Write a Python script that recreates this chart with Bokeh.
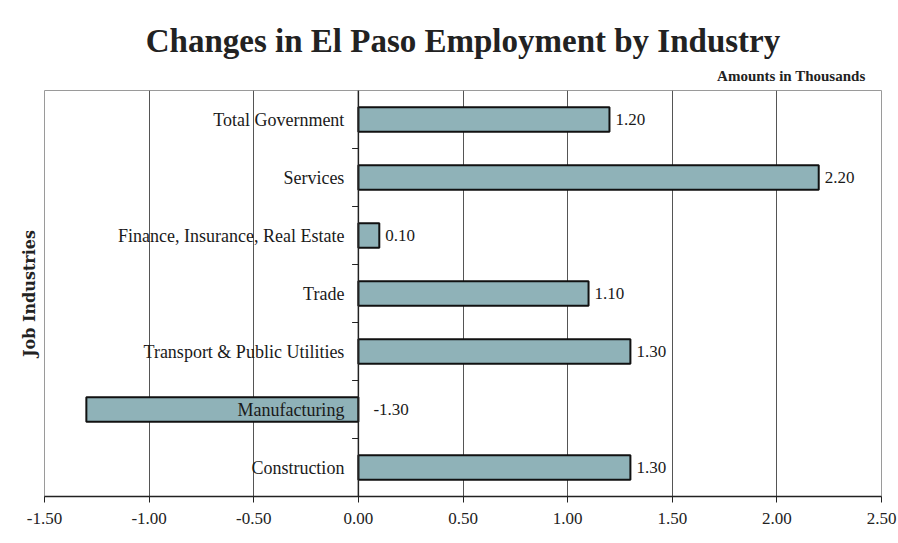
from bokeh.plotting import figure
from bokeh.models import Range1d, Span, Title, ColumnDataSource, FixedTicker, NumeralTickFormatter
from bokeh.core.properties import value
from bokeh.embed import file_html
from bokeh.resources import INLINE

industries = ["Construction", "Manufacturing", "Transport & Public Utilities", "Trade",
              "Finance, Insurance, Real Estate", "Services", "Total Government"]
changes = [1.30, -1.30, 1.30, 1.10, 0.10, 2.20, 1.20]
x_ticks = [-1.5, -1.0, -0.5, 0.0, 0.5, 1.0, 1.5, 2.0, 2.5]

FONT = "Liberation Serif"
BAR = "#8fb2b8"

idx = list(range(len(industries)))
src = ColumnDataSource(dict(
    y=idx, v=changes, name=industries,
    lx=[max(v, 0) for v in changes],
    lab=["%.2f" % v for v in changes],
    xo=[6 if v >= 0 else 15 for v in changes],
))

p = figure(width=898, height=543, output_backend="svg", toolbar_location=None,
           x_range=Range1d(-1.5, 2.5), y_range=Range1d(-0.5, 6.5),
           min_border_left=44, min_border_right=17, min_border_top=90, min_border_bottom=47,
           title=None)
p.outline_line_color = "#9a9a9a"
p.outline_line_width = 1
p.background_fill_color = "white"
p.border_fill_color = "white"

p.yaxis.visible = False
p.ygrid.visible = False
p.xgrid.ticker = FixedTicker(ticks=x_ticks)
p.xgrid.grid_line_color = "#555555"
p.xgrid.grid_line_width = 1
p.xaxis.ticker = FixedTicker(ticks=x_ticks)
p.xaxis.formatter = NumeralTickFormatter(format="0.00")
p.xaxis.axis_line_color = "#222222"
p.xaxis.axis_line_width = 1.5
p.xaxis.major_tick_line_color = "#222222"
p.xaxis.major_tick_out = 6
p.xaxis.major_tick_in = 0
p.xaxis.minor_tick_line_color = None
p.xaxis.major_label_text_font = FONT
p.xaxis.major_label_text_font_size = "17px"
p.xaxis.major_label_text_color = "#222222"
p.xaxis.major_label_standoff = 10

p.hbar(y="y", left=0, right="v", height=0.42, source=src,
       fill_color=BAR, line_color="#111111", line_width=2)

p.add_layout(Span(location=0, dimension="height", line_color="#222222", line_width=1.5))
bounds = [i + 0.5 for i in range(len(industries) - 1)]
p.segment(x0=[-0.03] * len(bounds), x1=[0] * len(bounds), y0=bounds, y1=bounds,
          line_color="#222222", line_width=1.2)

p.text(x=0, y="y", text="name", source=src, x_offset=-14, text_align="right",
       text_baseline="middle", text_font=value(FONT), text_font_size="18px", text_color="#1a1a1a")
p.text(x="lx", y="y", text="lab", source=src, x_offset="xo", text_align="left",
       text_baseline="middle", text_font=value(FONT), text_font_size="17px", text_color="#1a1a1a")

p.add_layout(Title(text="Amounts in Thousands", align="right", offset=16,
                   text_font=FONT, text_font_style="bold", text_font_size="15px",
                   text_color="#222222", standoff=14), "above")
p.add_layout(Title(text="Changes in El Paso Employment by Industry", align="center",
                   text_font=FONT, text_font_style="bold", text_font_size="33px",
                   text_color="#222222", standoff=0), "above")
p.add_layout(Title(text="Job Industries", align="center", offset=-7,
                   text_font="DejaVu Serif", text_font_style="bold", text_font_size="16px",
                   text_color="#222222", standoff=12), "left")

open("out.html", "w").write(file_html(p, INLINE))
